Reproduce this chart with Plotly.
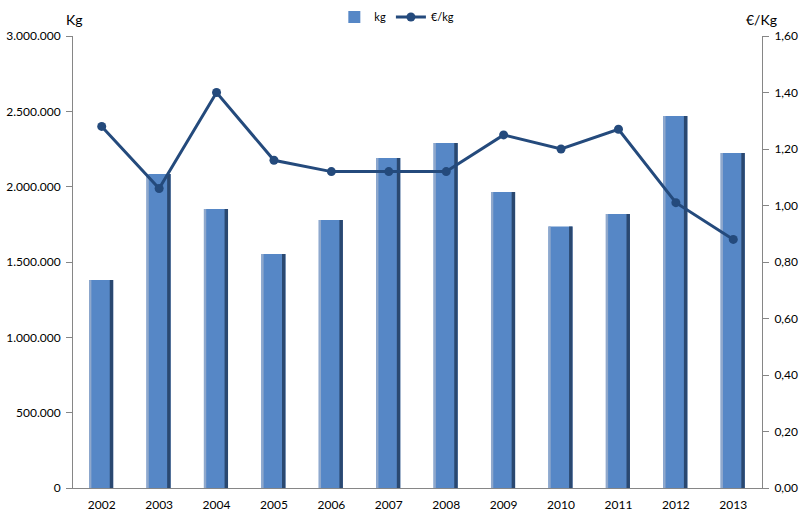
import plotly.graph_objects as go

years = ["2002", "2003", "2004", "2005", "2006", "2007", "2008", "2009", "2010", "2011", "2012", "2013"]
kg = [1380000, 2084000, 1852000, 1553000, 1779000, 2190000, 2290000, 1965000, 1735000, 1819000, 2469000, 2223000]
eur_per_kg = [1.28, 1.06, 1.40, 1.16, 1.12, 1.12, 1.12, 1.25, 1.20, 1.27, 1.01, 0.88]

left_ticks = [0, 500000, 1000000, 1500000, 2000000, 2500000, 3000000]
left_labels = ["0", "500.000", "1.000.000", "1.500.000", "2.000.000", "2.500.000", "3.000.000"]
right_ticks = [0, 0.2, 0.4, 0.6, 0.8, 1.0, 1.2, 1.4, 1.6]
right_labels = ["0,00", "0,20", "0,40", "0,60", "0,80", "1,00", "1,20", "1,40", "1,60"]

FONT = "Lato"
BAR = "#5687C6"
LINE = "#244A7C"

fig = go.Figure()
# main bar
fig.add_trace(go.Bar(x=years, y=kg, name="kg", width=0.42, offset=-0.22,
                     marker=dict(color=BAR, line=dict(width=0)), yaxis="y"))
# light left edge (3D look)
fig.add_trace(go.Bar(x=years, y=kg, showlegend=False, width=0.04, offset=-0.22,
                     marker=dict(color="#8FA8CC", line=dict(width=0)), hoverinfo="skip", yaxis="y"))
# dark right edge (3D look)
fig.add_trace(go.Bar(x=years, y=kg, showlegend=False, width=0.06, offset=0.14,
                     marker=dict(color="#2A4870", line=dict(width=0)), hoverinfo="skip", yaxis="y"))
fig.add_trace(go.Scatter(x=years, y=eur_per_kg, name="€/kg", mode="lines+markers",
                         line=dict(color=LINE, width=3),
                         marker=dict(color=LINE, size=9, symbol="circle"), yaxis="y2"))

fig.update_layout(
    width=802, height=528,
    margin=dict(l=73, r=40, t=36, b=40, autoexpand=False),
    paper_bgcolor="white", plot_bgcolor="white",
    barmode="overlay",
    font=dict(family=FONT, size=12, color="#000000"),
    showlegend=True,
    legend=dict(orientation="h", x=0.47, xanchor="center", y=1.0 + 19 / 452, yanchor="middle",
                font=dict(size=11), traceorder="normal", itemwidth=30,
                bgcolor="rgba(0,0,0,0)"),
    xaxis=dict(type="category", showgrid=False, showline=True, linecolor="#868686",
               linewidth=1, ticks="", tickfont=dict(size=12), range=[-0.5, 11.5],
               ticklabelstandoff=6),
    yaxis=dict(range=[0, 3000000], tickvals=left_ticks, ticktext=left_labels,
               showgrid=False, showline=True, linecolor="#868686", linewidth=1,
               ticks="outside", ticklen=6, tickcolor="#868686", zeroline=False,
               tickfont=dict(size=12), ticklabelstandoff=3),
    yaxis2=dict(range=[0, 1.6], tickvals=right_ticks, ticktext=right_labels,
                overlaying="y", side="right", showgrid=False, showline=True,
                linecolor="#868686", linewidth=1, ticks="outside", ticklen=6,
                tickcolor="#868686", zeroline=False, tickfont=dict(size=12),
                ticklabelstandoff=3),
    annotations=[
        dict(text="Kg", xref="paper", yref="paper", x=-0.013, y=1.014, xanchor="left",
             yanchor="bottom", showarrow=False, font=dict(size=14)),
        dict(text="€/Kg", xref="paper", yref="paper", x=0.999, y=1.014, xanchor="center",
             yanchor="bottom", showarrow=False, font=dict(size=14)),
    ],
)

fig.write_html("out.html", config={"displayModeBar": False},
               post_script="document.body.style.margin='0';document.body.style.overflow='hidden';")
